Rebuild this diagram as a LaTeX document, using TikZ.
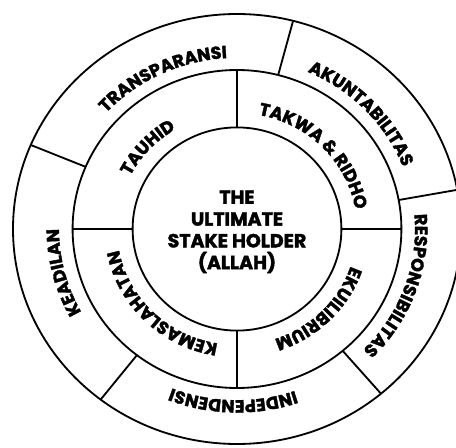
\documentclass[tikz,border=0pt]{standalone}
\usepackage{fontspec}
\setmainfont{Poppins}[BoldFeatures={FakeBold=2}]
\usetikzlibrary{decorations.text}
\definecolor{ShwInk}{RGB}{0,0,0}
\newcommand{\ringfont}{\fontsize{12.5}{15}\selectfont\bfseries}
\newcommand{\hubfont}{\fontsize{13.5}{15.5}\selectfont\bfseries}
\tikzset{
  shw/ring/.style={
    draw=ShwInk,
    line width=1.3pt
  },
  shw/divider/.style={draw=ShwInk, line width=1.3pt},
  shw/core/.style={
    align=center,
    text=ShwInk,
    font=\hubfont
  },
  shw/arctext/.style={
    decoration={text along path, text={|\ringfont|#1}, text align=center},
    decorate
  }
}

\begin{document}
\begin{tikzpicture}[x=1cm,y=1cm]
  \useasboundingbox (-5.925,-5.475) rectangle (5.475,5.725);
  % three rings
  \draw[shw/ring] (0,0) ellipse [x radius=2.61, y radius=2.54];
  \draw[shw/ring] (0,0) ellipse [x radius=4.11, y radius=3.975];
  \draw[shw/ring] (0,0) ellipse [x radius=5.6, y radius=5.375];
  \node[shw/core] (hub) at (0,-0.07) {THE\\ULTIMATE\\STAKE HOLDER\\(ALLAH)};
  % dividers
  \foreach \ang in {0,90,180,270}{\draw[shw/divider] (\ang:2.61 and 2.54) -- (\ang:4.11 and 3.975);}
  \foreach \ang in {75.5,10.5,-50,232.5,157}{\draw[shw/divider] (\ang:4.11 and 3.975) -- (\ang:5.6 and 5.375);}
  % curved labels, clockwise
  \foreach \ang/\txt in {137.6/TAUHID,44/TAKWA {\&} RIDHO,-44.5/EKUILIBRIUM,225/KEMASLAHATAN}{
    \path[shw/arctext/.expanded=\txt] (\ang+80:3.0 and 2.9) arc[start angle=\ang+80, end angle=\ang-80, x radius=3.0, y radius=2.9];
  }
  \foreach \ang/\txt in {116/TRANSPARANSI,43/AKUNTABILITAS,-19.5/RESPONSIBILITAS,268.7/INDEPENDENSI,194/KEADILAN}{
    \path[shw/arctext/.expanded=\txt] (\ang+80:4.45 and 4.28) arc[start angle=\ang+80, end angle=\ang-80, x radius=4.45, y radius=4.28];
  }
\end{tikzpicture}
\end{document}
